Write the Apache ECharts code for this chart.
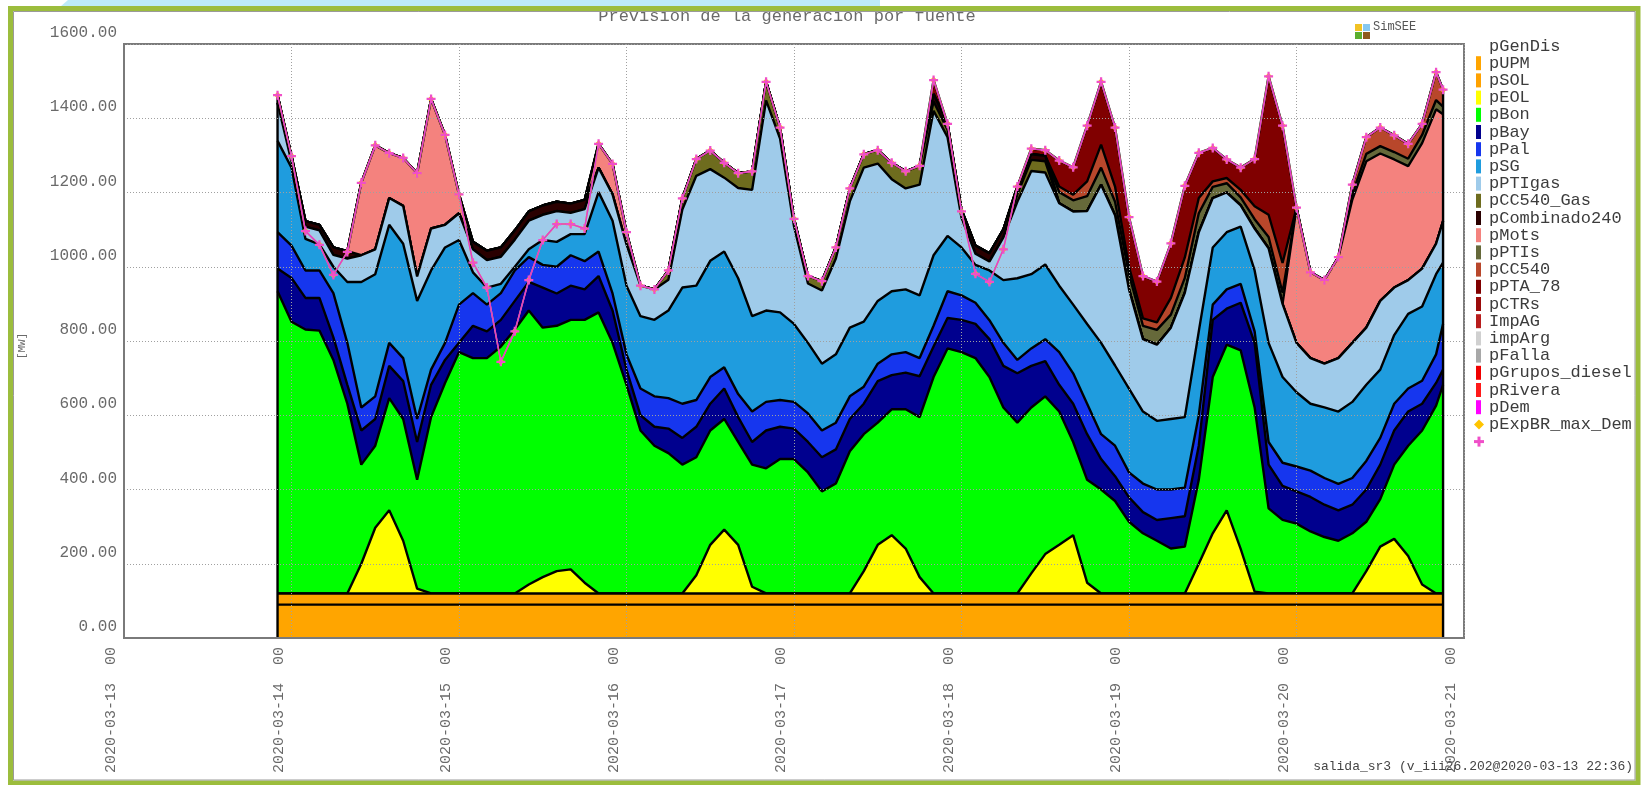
<!DOCTYPE html>
<html>
<head>
<meta charset="utf-8">
<title>Previsión de la generación por fuente</title>
<script src="https://cdn.jsdelivr.net/npm/echarts@6/dist/echarts.min.js"></script>
<style>
  html, body { margin: 0; padding: 0; background: #ffffff; }
  #chart { width: 1641px; height: 785px; }
</style>
</head>
<body>
<div id="chart"></div>
<script>
// Sample times: every 2 hours from 2020-03-13 22:00, last sample 2020-03-20 21:00 (UTC clock)
const HOUR = 3600 * 1000;
const times = [];
for (let i = 0; i < 84; i++) times.push(Date.UTC(2020, 2, 13, 22) + i * 2 * HOUR);
times.push(Date.UTC(2020, 2, 20, 21));

// Axis ticks
const yTicks = [0, 200, 400, 600, 800, 1000, 1200, 1400, 1600];
const dayTicks = ['2020-03-13', '2020-03-14', '2020-03-15', '2020-03-16', '2020-03-17',
                  '2020-03-18', '2020-03-19', '2020-03-20', '2020-03-21'];

// Generation by source, MW (flat bottom layers)
const pGenDis = [
  90,90,90,90,90,90,90,90,90,90,90,90,90,90,
  90,90,90,90,90,90,90,90,90,90,90,90,90,90,
  90,90,90,90,90,90,90,90,90,90,90,90,90,90,
  90,90,90,90,90,90,90,90,90,90,90,90,90,90,
  90,90,90,90,90,90,90,90,90,90,90,90,90,90,
  90,90,90,90,90,90,90,90,90,90,90,90,90,90,90
];
const pUPM = [
  30,30,30,30,30,30,30,30,30,30,30,30,30,30,
  30,30,30,30,30,30,30,30,30,30,30,30,30,30,
  30,30,30,30,30,30,30,30,30,30,30,30,30,30,
  30,30,30,30,30,30,30,30,30,30,30,30,30,30,
  30,30,30,30,30,30,30,30,30,30,30,30,30,30,
  30,30,30,30,30,30,30,30,30,30,30,30,30,30,30
];
const pSOL = [
  0,0,0,0,0,0,80,177,224,142,13,0,0,0,
  0,0,0,0,24,44,60,65,29,0,0,0,0,0,
  0,0,49,131,172,131,18,0,0,0,0,0,0,0,
  60,131,157,121,44,0,0,0,0,0,0,0,54,106,
  131,157,29,0,0,0,0,0,0,0,80,162,224,120,
  5,0,0,0,0,0,0,0,60,126,147,101,24,0,0
];

// Cumulative stack height (MW) at the top of wind and of each hydro plant
const topEOL = [
  934,852,831,828,749,631,467,518,646,590,426,595,687,770,
  754,754,785,831,882,836,841,857,857,877,795,682,559,518,
  498,467,487,559,590,528,467,457,482,482,446,395,416,503,
  549,580,616,616,595,703,780,770,754,703,621,580,621,651,
  610,528,426,400,369,313,282,262,241,246,426,703,790,775,
  621,349,318,308,287,272,262,282,313,374,467,518,559,626,682
];
const topBon = [
  995,970,916,916,810,682,559,590,733,692,528,682,749,795,
  841,826,857,908,959,944,928,949,939,975,882,723,600,569,
  564,539,569,631,672,595,528,559,569,564,528,487,508,590,
  631,692,708,715,705,785,862,857,846,805,733,713,733,746,
  682,631,549,482,436,379,339,318,323,328,518,857,887,903,
  795,467,410,395,380,359,344,359,400,467,559,610,631,687,723
];
const topBay = [
  1093,1057,990,990,929,795,621,651,795,754,590,723,795,898,
  929,898,929,990,1026,1005,1000,1031,1015,1041,928,764,672,651,
  646,631,641,703,729,657,610,636,641,636,605,559,580,651,
  677,739,764,770,754,841,934,923,903,856,795,749,780,805,
  770,713,631,549,518,446,416,400,400,405,600,898,939,954,
  826,528,472,462,451,431,415,431,477,539,631,672,693,764,846
];
const topPal = [
  1339,1267,1075,1060,1000,959,959,980,1113,1062,908,990,1052,1072,
  985,944,954,1000,1047,1072,1067,1088,1088,1201,1124,949,867,857,
  882,944,949,1016,1041,969,867,882,877,846,795,739,764,836,
  852,908,934,939,923,1031,1083,1052,1005,990,964,969,980,1006,
  949,898,846,795,734,672,610,585,590,595,826,1052,1093,1108,
  990,795,703,662,631,621,610,636,682,723,816,873,893,980,1011
];
const topSG = [
  1442,1283,1108,1098,1032,1022,1031,1047,1185,1164,974,1103,1113,1144,
  1047,1018,1027,1073,1124,1140,1150,1145,1155,1267,1195,1060,949,939,
  965,1154,1245,1263,1240,1212,1207,1448,1345,1109,955,936,1022,1176,
  1267,1278,1236,1211,1221,1420,1349,1132,1035,1014,1079,1175,1258,1254,
  1171,1149,1150,1221,1139,939,805,790,836,930,1093,1185,1200,1165,
  1103,1050,900,795,754,739,754,795,836,908,944,964,995,1062,1123
];

// Thermal sources, MW
const pPTIgas = [
  0,0,0,0,0,0,0,0,0,0,0,0,0,0,
  0,0,0,0,0,0,0,0,0,0,0,0,0,0,
  25,30,45,50,40,40,50,50,30,20,20,25,30,35,
  36,36,44,46,51,25,20,0,0,0,0,20,30,30,
  0,0,0,0,0,0,0,0,0,0,0,0,0,0,
  0,0,0,0,0,0,0,0,0,0,0,0,0,0,0
];
const pCC540_Gas = [
  20,15,15,15,20,20,0,0,0,0,0,0,0,0,
  20,25,25,25,25,25,25,25,25,0,0,0,0,0,
  0,0,0,0,0,0,0,0,0,0,0,0,0,0,
  0,0,0,0,0,20,16,22,22,22,22,21,15,15,
  0,0,0,0,0,0,0,0,0,0,0,0,0,0,
  0,0,0,0,0,0,0,0,0,0,0,0,0,0,0
];
const pCombinado240 = [
  0,0,0,0,0,0,195,280,121,129,278,349,242,51,
  0,0,0,0,0,0,0,0,0,64,82,33,0,0,
  0,0,0,0,0,0,0,0,0,0,0,0,0,0,
  0,0,0,0,0,0,0,0,0,0,0,0,0,0,
  0,0,0,0,0,0,0,0,0,0,0,0,0,0,
  0,0,0,364,231,225,272,386,448,397,345,307,338,362,288
];
const pMots = [
  0,0,0,0,0,0,0,0,0,0,0,0,0,0,
  0,0,0,0,0,0,0,0,0,0,0,0,0,0,
  0,0,0,0,0,0,0,0,0,0,0,0,0,0,
  0,0,0,0,0,0,0,0,0,0,0,0,0,0,
  30,30,40,46,36,41,36,40,35,40,51,30,25,22,
  25,30,30,0,0,0,0,15,20,20,20,20,22,25,20
];
const pPTIs = [
  0,0,0,0,0,0,0,0,0,0,0,0,0,0,
  0,0,0,0,0,0,0,0,0,0,0,0,0,0,
  0,0,0,0,0,0,0,0,0,0,0,0,0,0,
  0,0,0,0,0,0,0,0,0,0,0,0,0,0,
  15,15,40,62,41,20,20,20,45,55,41,15,14,20,
  35,60,80,0,0,0,0,25,45,50,45,40,30,75,46
];
const pCC540 = [
  0,0,0,0,0,0,0,0,0,0,0,0,0,0,
  0,0,0,0,0,0,0,0,0,0,0,0,0,0,
  0,0,0,0,0,0,0,0,0,0,0,0,0,0,
  0,0,0,0,0,38,0,0,0,0,0,0,15,15,
  70,74,150,169,159,134,114,110,147,193,122,90,50,60,
  127,373,370,0,0,0,0,0,0,0,0,0,0,0,0
];

// Demand, MW
const pDem = [
  1462,1298,1096,1059,978,1040,1226,1327,1306,1293,1252,1452,1355,1195,
  1011,944,744,826,964,1072,1115,1115,1103,1331,1277,1093,949,939,
  990,1184,1290,1313,1280,1252,1257,1498,1375,1129,975,961,1052,1211,
  1303,1314,1280,1257,1272,1503,1385,1149,981,959,1047,1216,1318,1314,
  1286,1268,1380,1498,1375,1134,975,960,1063,1218,1307,1320,1289,1267,
  1290,1513,1380,1159,985,964,1026,1221,1349,1375,1354,1331,1385,1524,1477
];
const pExpBR_max_Dem = pDem;

// Legend entries and colours (one colour per entry, drawn one row lower)
const legendNames = ['pGenDis','pUPM','pSOL','pEOL','pBon','pBay','pPal','pSG','pPTIgas',
  'pCC540_Gas','pCombinado240','pMots','pPTIs','pCC540','pPTA_78','pCTRs','ImpAG','impArg',
  'pFalla','pGrupos_diesel','pRivera','pDem','pExpBR_max_Dem'];
const legendColors = ['#FFA500','#FFA200','#FFFF00','#00FF00','#00008E','#1636EE','#1F9CDE',
  '#9FCBEA','#6E6C1E','#2A0000','#F4827E','#66693A','#B8472B','#800000','#9B0B0B','#B81D1D',
  '#D0D0D0','#A8A8A8','#F00000','#FF1A1A','#FF00FF','#FFC400','#F04FC8'];

// Per-source values for the wind and hydro layers from the cumulative heights
const baseTop = times.map((_, i) => pGenDis[i] + pUPM[i] + pSOL[i]);
const pEOL = topEOL.map((v, i) => v - baseTop[i]);
const pBon = topBon.map((v, i) => v - topEOL[i]);
const pBay = topBay.map((v, i) => v - topBon[i]);
const pPal = topPal.map((v, i) => v - topBay[i]);
const pSG  = topSG.map((v, i) => v - topPal[i]);

const stacked = [
  ['pGenDis', pGenDis], ['pUPM', pUPM], ['pSOL', pSOL], ['pEOL', pEOL],
  ['pBon', pBon], ['pBay', pBay], ['pPal', pPal], ['pSG', pSG],
  ['pPTIgas', pPTIgas], ['pCC540_Gas', pCC540_Gas], ['pCombinado240', pCombinado240],
  ['pMots', pMots], ['pPTIs', pPTIs], ['pCC540', pCC540]
];

const MONO = '"Liberation Mono", "DejaVu Sans Mono", monospace';
const pad2 = n => String(n).padStart(2, '0');
function dayLabel(v) {
  const d = new Date(v);
  return d.getUTCFullYear() + '-' + pad2(d.getUTCMonth() + 1) + '-' + pad2(d.getUTCDate()) +
         '  ' + pad2(d.getUTCHours());
}

// Stack the sources: each layer is filled from zero up to its running total,
// lower layers painted over higher ones.
let running = times.map(() => 0);
const series = stacked.map(([name, vals], k) => {
  running = running.map((s, i) => s + vals[i]);
  return {
    name: name,
    type: 'line',
    data: times.map((t, i) => [t, running[i]]),
    symbol: 'none',
    showSymbol: false,
    z: 160 - k,
    lineStyle: { color: '#000000', width: 2.4 },
    areaStyle: { color: legendColors[legendNames.indexOf(name)], opacity: 1, origin: 'start' },
    silent: true
  };
});
const stackTop = running;

// vertical closing edges at both ends of the stacked block
const last = times.length - 1;
[0, last].forEach(i => {
  series.push({
    type: 'line', data: [[times[i], 0], [times[i], stackTop[i]]],
    symbol: 'none', z: 170, silent: true,
    lineStyle: { color: '#000000', width: 2.4 }
  });
});

series.push({
  name: 'pDem', type: 'line',
  data: times.map((t, i) => [t, pDem[i]]),
  symbol: 'diamond', symbolSize: 7, showSymbol: true, z: 180, silent: true,
  lineStyle: { color: '#FFD000', width: 1.5 },
  itemStyle: { color: '#FFC400' }
});
series.push({
  name: 'pExpBR_max_Dem', type: 'line',
  data: times.map((t, i) => [t, pExpBR_max_Dem[i]]),
  symbol: 'path://M3,0h2v3h3v2h-3v3h-2v-3h-3v-2h3z', symbolSize: 9, showSymbol: true,
  z: 190, silent: true,
  lineStyle: { color: '#E03CD0', width: 1.6 },
  itemStyle: { color: '#F04FC8' }
});

// Legend drawn as text rows with a colour mark one row lower
const legendGraphics = [];
const LX = 1489, LY = 46, LH = 17.2;
legendNames.forEach((name, k) => {
  legendGraphics.push({
    type: 'text', x: LX, y: LY + LH * k, z: 50,
    style: { text: name, font: '17px ' + MONO, fill: '#3c3c3c',
             verticalAlign: 'middle', textVerticalAlign: 'middle' }
  });
  const cy = LY + LH * (k + 1);
  if (name === 'pDem') {
    legendGraphics.push({ type: 'polygon', z: 50,
      shape: { points: [[1479, cy - 5], [1484, cy], [1479, cy + 5], [1474, cy]] },
      style: { fill: legendColors[k] } });
  } else if (name === 'pExpBR_max_Dem') {
    legendGraphics.push({ type: 'rect', z: 50, shape: { x: 1474, y: cy - 1.5, width: 10, height: 3 },
      style: { fill: legendColors[k] } });
    legendGraphics.push({ type: 'rect', z: 50, shape: { x: 1477.5, y: cy - 5, width: 3, height: 10 },
      style: { fill: legendColors[k] } });
  } else {
    legendGraphics.push({ type: 'rect', z: 50, shape: { x: 1476, y: cy - 7, width: 5, height: 14 },
      style: { fill: legendColors[k] } });
  }
});

const chart = echarts.init(document.getElementById('chart'), null, { renderer: 'canvas' });
chart.setOption({
  animation: false,
  backgroundColor: '#ffffff',
  grid: { left: 124, right: 177, top: 44, bottom: 147, show: true,
          borderColor: '#7a7a7a', borderWidth: 2, backgroundColor: 'transparent' },
  xAxis: {
    type: 'value', z: 300,
    min: Date.parse(dayTicks[0] + 'T00:00:00Z'),
    max: Date.parse(dayTicks[dayTicks.length - 1] + 'T00:00:00Z'),
    interval: 24 * HOUR,
    axisLine: { show: true, onZero: false, lineStyle: { color: '#7a7a7a', width: 2 } },
    axisTick: { show: false },
    splitLine: { show: true, lineStyle: { color: '#a0a0a0', width: 1, type: [1, 2] } },
    axisLabel: { rotate: 90, formatter: dayLabel, fontFamily: MONO, fontSize: 15, color: '#6a6a6a',
                 margin: 9, verticalAlign: 'bottom', padding: [0, 0, 5, 0],
                 showMinLabel: true, showMaxLabel: true }
  },
  yAxis: {
    type: 'value', z: 300,
    min: yTicks[0], max: yTicks[yTicks.length - 1], interval: 200,
    axisLine: { show: true, lineStyle: { color: '#7a7a7a', width: 2 } },
    axisTick: { show: false },
    splitLine: { show: true, lineStyle: { color: '#a0a0a0', width: 1, type: [1, 2] } },
    axisLabel: { formatter: v => v.toFixed(2), fontFamily: MONO, fontSize: 16, color: '#6a6a6a',
                 margin: 7, verticalAlign: 'bottom', padding: [0, 0, 3, 0] }
  },
  series: series,
  graphic: [
    // page tab above the frame
    { type: 'polygon', z: 5, shape: { points: [[60, 7], [68, 0], [880, 0], [880, 7]] },
      style: { fill: '#BDEBF8' } },
    // title (upper part hidden behind the frame)
    { type: 'text', x: 787, y: 16, z: 10,
      style: { text: 'Previsión de la generación por fuente', font: '17px ' + MONO, fill: '#6a6a6a',
               align: 'center', textAlign: 'center', verticalAlign: 'middle', textVerticalAlign: 'middle' } },
    // frame
    { type: 'rect', z: 20, shape: { x: 10.5, y: 8.5, width: 1627.5, height: 774.5 },
      style: { fill: 'none', stroke: '#9CBD3D', lineWidth: 5 } },
    { type: 'rect', z: 21, shape: { x: 13.5, y: 11.5, width: 1621.5, height: 768.5 },
      style: { fill: 'none', stroke: '#9a9a9a', lineWidth: 1 } },
    // unit label
    { type: 'text', x: 22, y: 346, rotation: Math.PI / 2, z: 30,
      style: { text: '[MW]', font: '11px ' + MONO, fill: '#6a6a6a',
               align: 'center', textAlign: 'center', verticalAlign: 'middle', textVerticalAlign: 'middle' } },
    // SimSEE mark
    { type: 'rect', z: 30, shape: { x: 1355, y: 24, width: 7, height: 7 }, style: { fill: '#F2C224' } },
    { type: 'rect', z: 30, shape: { x: 1363, y: 24, width: 7, height: 7 }, style: { fill: '#86C8F0' } },
    { type: 'rect', z: 30, shape: { x: 1355, y: 32, width: 7, height: 7 }, style: { fill: '#5BAE2E' } },
    { type: 'rect', z: 30, shape: { x: 1363, y: 32, width: 7, height: 7 }, style: { fill: '#8E5A1C' } },
    { type: 'text', x: 1373, y: 27, z: 30,
      style: { text: 'SimSEE', font: '12px ' + MONO, fill: '#555555',
               verticalAlign: 'middle', textVerticalAlign: 'middle' } },
    // run stamp
    { type: 'text', x: 1633, y: 767, z: 30,
      style: { text: 'salida_sr3 (v_iii26.202@2020-03-13 22:36)', font: '13px ' + MONO, fill: '#444444',
               align: 'right', textAlign: 'right', verticalAlign: 'middle', textVerticalAlign: 'middle' } }
  ].concat(legendGraphics)
});
</script>
</body>
</html>
